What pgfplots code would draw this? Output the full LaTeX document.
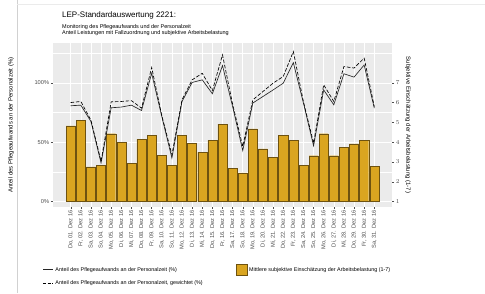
\documentclass[border=0pt]{standalone}
\usepackage{pgfplots}
\pgfplotsset{compat=1.18}
\usepackage{pgfplotstable}
\usepackage{fontspec}
\setmainfont{Liberation Sans}
\definecolor{ggbg}{HTML}{EBEBEB}
\definecolor{barfill}{HTML}{DAA520}
\definecolor{bardraw}{HTML}{6E5210}
\definecolor{ticktext}{HTML}{4D4D4D}

\pgfplotstableread{
d v
1 4.83
2 5.10
3 2.75
4 2.85
5 4.43
6 3.99
7 2.92
8 4.16
9 4.34
10 3.34
11 2.85
12 4.33
13 3.94
14 3.49
15 4.09
16 4.92
17 2.68
18 2.45
19 4.68
20 3.67
21 3.24
22 4.34
23 4.09
24 2.85
25 3.32
26 4.43
27 3.32
28 3.74
29 3.92
30 4.09
31 2.78
}\bars

\pgfplotstableread{
d p pw
1 80.7 83.4
2 81.2 84.3
3 67.5 68.5
4 32.5 34.0
5 79.0 84.0
6 79.6 84.3
7 81.2 85.0
8 76.7 78.7
9 108.0 112.9
10 71.7 72.5
11 36.7 39.5
12 84.3 85.7
13 100.3 102.5
14 102.5 108.0
15 90.8 93.5
16 114.5 123.5
17 80.0 82.0
18 43.0 46.5
19 83.0 85.7
20 88.5 92.7
21 94.0 99.7
22 99.7 105.3
23 117.0 126.3
24 83.0 84.0
25 47.0 49.3
26 94.0 98.3
27 81.5 84.3
28 107.6 113.7
29 104.8 112.4
30 115.0 120.8
31 78.7 80.0
}\lines

\begin{document}
\begin{tikzpicture}
\path[use as bounding box] (0pt,0pt) rectangle (485pt,293pt);
\draw[black!18, line width=0.6pt] (17pt,0pt) -- (17pt,293pt);
\draw[black!8, line width=0.5pt] (17pt,289pt) -- (485pt,289pt);

\begin{axis}[
  name=main,
  at={(53pt,86pt)}, anchor=south west, scale only axis,
  width=339pt, height=164pt,
  xmin=-0.75, xmax=32.75, ymin=-4.5, ymax=133.5,
  axis background/.style={fill=ggbg},
  axis line style={draw=none},
  xtick={1,...,31},
  xticklabels={{Do, 01. Dez 16},{Fr, 02. Dez 16},{Sa, 03. Dez 16},{So, 04. Dez 16},{Mo, 05. Dez 16},{Di, 06. Dez 16},{Mi, 07. Dez 16},{Do, 08. Dez 16},{Fr, 09. Dez 16},{Sa, 10. Dez 16},{So, 11. Dez 16},{Mo, 12. Dez 16},{Di, 13. Dez 16},{Mi, 14. Dez 16},{Do, 15. Dez 16},{Fr, 16. Dez 16},{Sa, 17. Dez 16},{So, 18. Dez 16},{Mo, 19. Dez 16},{Di, 20. Dez 16},{Mi, 21. Dez 16},{Do, 22. Dez 16},{Fr, 23. Dez 16},{Sa, 24. Dez 16},{So, 25. Dez 16},{Mo, 26. Dez 16},{Di, 27. Dez 16},{Mi, 28. Dez 16},{Do, 29. Dez 16},{Fr, 30. Dez 16},{Sa, 31. Dez 16}},
  ytick={0,50,100}, yticklabels={0\%,50\%,100\%},
  minor ytick={25,75,125},
  xmajorgrids, ymajorgrids, yminorgrids,
  major grid style={white, line width=0.6pt},
  minor grid style={white, line width=0.3pt},
  tick align=outside, xtick pos=left, ytick pos=left,
  major tick style={ticktext, line width=0.4pt}, major tick length=2.2pt,
  minor tick length=0pt,
  tick label style={font=\fontsize{5.7}{6}\selectfont, text=ticktext},
  x tick label style={rotate=90, anchor=east, inner sep=1pt},
  y tick label style={inner sep=1.5pt},
  legend style={at={(-0.04,-0.335)}, anchor=north west, draw=none, fill=none,
    font=\fontsize{5.4}{6}\selectfont, legend columns=2,
    /tikz/every even column/.append style={column sep=31pt}, row sep=3pt,
    legend cell align=left},
]
\addlegendimage{legend image code/.code={\draw[black!85, line width=0.8pt] (0pt,0pt) -- (10pt,0pt);}}
\addlegendentry{Anteil des Pflegeaufwands an der Personalzeit (\%)}
\addlegendimage{legend image code/.code={\draw[fill=barfill, draw=bardraw, line width=0.4pt] (0pt,-5.5pt) rectangle (11pt,5.5pt);}}
\addlegendentry{Mittlere subjektive Einschätzung der Arbeitsbelastung (1-7)}
\addlegendimage{legend image code/.code={\draw[black, line width=0.8pt, dash pattern=on 3pt off 1.6pt] (0pt,0pt) -- (10pt,0pt);}}
\addlegendentry{Anteil des Pflegeaufwands an der Personalzeit, gewichtet (\%)}

\addplot[ybar, bar width=0.9, bar shift=0pt, fill=barfill, draw=bardraw, line width=0.4pt, forget plot]
  table[x=d, y expr={(\thisrow{v}-1)*100/6}] {\bars};
\addplot[black!85, line width=0.65pt, forget plot] table[x=d, y=p] {\lines};
\addplot[black, line width=0.65pt, dash pattern=on 3.5pt off 1.8pt, forget plot] table[x=d, y=pw] {\lines};
\end{axis}

\begin{axis}[
  at={(main.south west)}, anchor=south west, scale only axis,
  width=339pt, height=164pt,
  xmin=-0.75, xmax=32.75, ymin=0.73, ymax=9.01,
  axis x line=none, axis y line*=right, axis line style={draw=none},
  xtick=\empty,
  ytick={1,...,7},
  tick align=outside,
  major tick style={ticktext, line width=0.4pt}, major tick length=2.2pt,
  tick label style={font=\fontsize{5.7}{6}\selectfont, text=ticktext},
  y tick label style={inner sep=1.5pt},
]
\addplot[draw=none] coordinates {(1,1) (31,7)};
\end{axis}

\node[rotate=90, font=\fontsize{6}{7}\selectfont] at (11pt,168pt) {Anteil des Pflegeaufwands an der Personalzeit (\%)};
\node[rotate=-90, font=\fontsize{6}{7}\selectfont] at (408pt,168pt) {Subjektive Einschätzung der Arbeitsbelastung (1-7)};

\node[anchor=base west, font=\fontsize{8}{9}\selectfont, inner sep=0pt] at (62pt,276pt) {LEP-Standardauswertung 2221:};
\node[anchor=base west, font=\fontsize{5.5}{6}\selectfont, inner sep=0pt] at (62pt,265pt) {Monitoring des Pflegeaufwands und der Personalzeit};
\node[anchor=base west, font=\fontsize{5.5}{6}\selectfont, inner sep=0pt] at (62pt,259pt) {Anteil Leistungen mit Fallzuordnung und subjektive Arbeitsbelastung};
\end{tikzpicture}
\end{document}
